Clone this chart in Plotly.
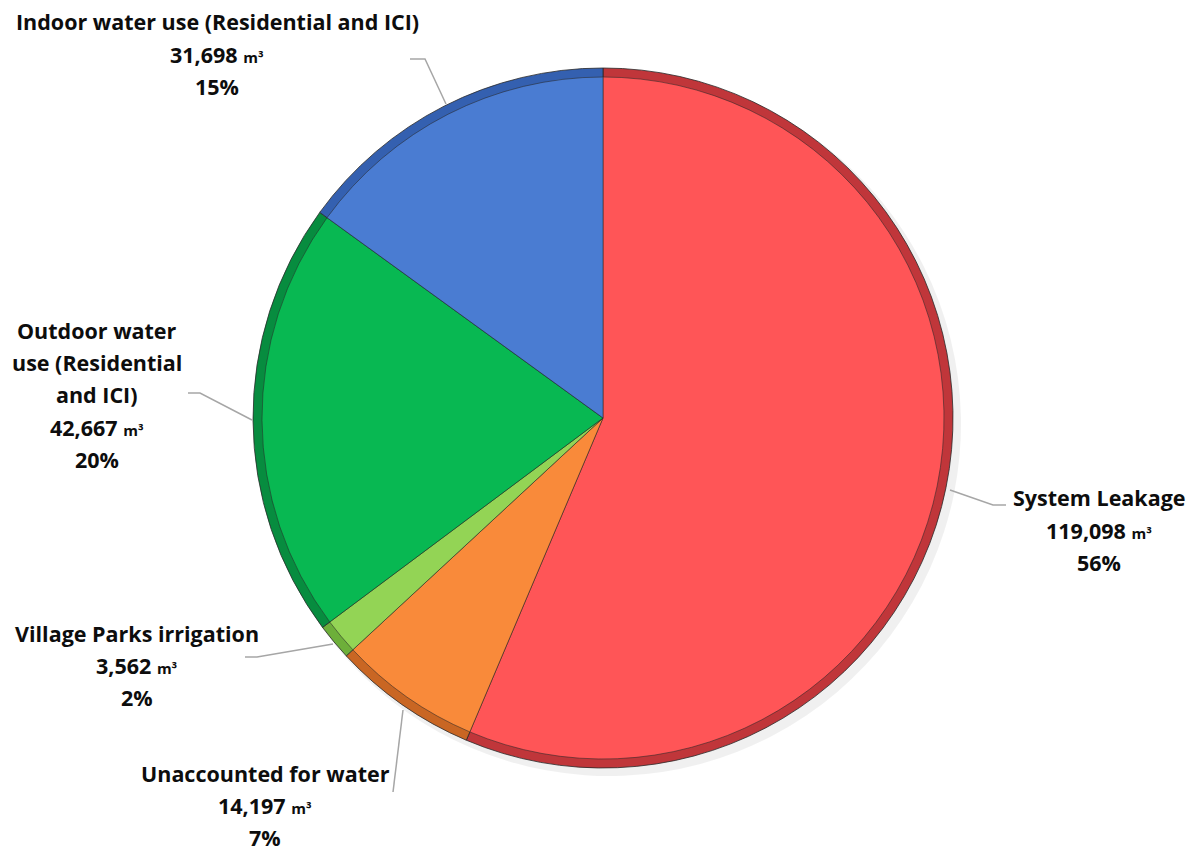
import plotly.graph_objects as go

# ---- data ----
categories = ["System Leakage", "Unaccounted for water", "Village Parks irrigation",
              "Outdoor water use (Residential and ICI)", "Indoor water use (Residential and ICI)"]
values = [119098, 14197, 3562, 42667, 31698]
unit = "m³"

# ---- style ----
colors = ["#FF5557", "#F98A3A", "#93D455", "#08B852", "#4A7CD2"]
rim_colors = ["#C0363A", "#C96623", "#6DAF3A", "#078C3F", "#3460B0"]

W, H = 1194, 851
cx, cy, R = 603, 418, 350
rim = 9

# label layout (pixel positions of first line centre) and wrapping
label_pos = {
    "System Leakage": (1099, 498),
    "Unaccounted for water": (265, 773),
    "Village Parks irrigation": (137, 633),
    "Outdoor water use (Residential and ICI)": (97, 330),
    "Indoor water use (Residential and ICI)": (217, 22),
}
label_wrap = {
    "Outdoor water use (Residential and ICI)": ["Outdoor water", "use (Residential", "and ICI)"],
}
leaders = {
    "System Leakage": [(1006, 505), (993, 505), (950, 490)],
    "Unaccounted for water": [(393, 792), (403, 710)],
    "Village Parks irrigation": [(245, 657), (257, 657), (333, 644)],
    "Outdoor water use (Residential and ICI)": [(188, 393), (200, 393), (252, 420)],
    "Indoor water use (Residential and ICI)": [(410, 59), (425, 59), (446, 104)],
}
line_gap = 32.4
FONT = "Open Sans"


def dom(r):
    return dict(x=[(cx - r) / W, (cx + r) / W], y=[1 - (cy + r) / H, 1 - (cy - r) / H])


fig = go.Figure()
# soft shadow
fig.add_trace(go.Pie(values=values, labels=categories, sort=False, direction="clockwise",
                     rotation=0, marker=dict(colors=["rgba(0,0,0,0.06)"] * 5, line=dict(width=0)),
                     textinfo="none", hoverinfo="skip", showlegend=False,
                     domain=dict(x=[(cx - R + 4) / W, (cx + R + 8) / W],
                                 y=[1 - (cy + R + 8) / H, 1 - (cy - R + 4) / H])))
# rim (darker bevel)
fig.add_trace(go.Pie(values=values, labels=categories, sort=False, direction="clockwise",
                     rotation=0, marker=dict(colors=rim_colors, line=dict(color="#2a2a2a", width=0.8)),
                     textinfo="none", hoverinfo="skip", showlegend=False, domain=dom(R)))
# face
fig.add_trace(go.Pie(values=values, labels=categories, sort=False, direction="clockwise",
                     rotation=0, marker=dict(colors=colors, line=dict(color="rgba(40,40,40,0.55)", width=1)),
                     textinfo="none", hoverinfo="skip", showlegend=False, domain=dom(R - rim)))

total = sum(values)
annotations = []
shapes = []
for name, v in zip(categories, values):
    lines = label_wrap.get(name, [name])
    lines = lines + [f"{v:,} <span style='font-size:15px'>{unit}</span>",
                     f"{round(v / total * 100)}%"]
    x0, y0 = label_pos[name]
    for i, t in enumerate(lines):
        annotations.append(dict(x=x0 / W, y=1 - (y0 + i * line_gap) / H, xref="paper", yref="paper",
                                text=f"<b>{t}</b>", showarrow=False, xanchor="center", yanchor="middle",
                                font=dict(family=FONT, size=21.5, color="#0d0d0d")))
    pts = leaders[name]
    path = "M " + " L ".join(f"{px / W},{1 - py / H}" for px, py in pts)
    shapes.append(dict(type="path", path=path, xref="paper", yref="paper",
                       line=dict(color="#A6A6A6", width=1.5)))

fig.update_layout(width=W, height=H, margin=dict(l=0, r=0, t=0, b=0),
                  paper_bgcolor="white", plot_bgcolor="white",
                  annotations=annotations, shapes=shapes, showlegend=False)
fig.write_html("out.html")
